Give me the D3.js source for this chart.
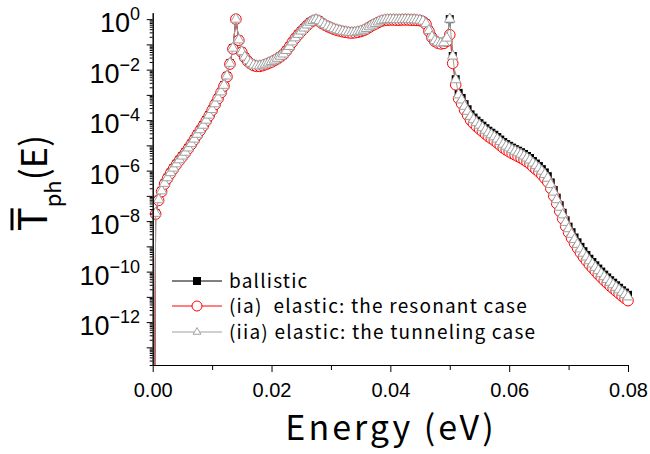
<!DOCTYPE html>
<html>
<head>
<meta charset="utf-8">
<script src="https://cdn.jsdelivr.net/npm/d3@7"></script>
<style>
body { margin: 0; background: #fff; }
svg text { font-family: "Liberation Sans", Arial, sans-serif; fill: #000; }
svg .cjk { font-family: "Noto Sans CJK JP", sans-serif; }
</style>
</head>
<body>
<script>
var width = 650,
    height = 454;

// sampling grid of the calculation: 0 .. 0.08 eV, step 0.0005 eV
var energyStep = 0.0005;
var energy = d3.range(161).map(function(i) { return i * energyStep; });

// log10 of T_ph(E) (-30 = zero at E = 0, below the axis)
var logBallistic = [
  -30, -7.69, -7.15, -6.80, -6.50, -6.28, -6.08, -5.90, -5.73, -5.57,
  -5.42, -5.27, -5.10, -4.93, -4.75, -4.56, -4.38, -4.20, -4.00, -3.80,
  -3.58, -3.35, -3.12, -2.88, -2.62, -2.25, -1.75, -1.15, 0.00, -0.82,
  -1.29, -1.50, -1.65, -1.75, -1.82, -1.85, -1.85, -1.82, -1.78, -1.73,
  -1.68, -1.62, -1.55, -1.47, -1.38, -1.24, -1.08, -0.90, -0.74, -0.60,
  -0.47, -0.35, -0.23, -0.12, -0.05, -0.02, -0.06, -0.15, -0.22, -0.28,
  -0.33, -0.38, -0.42, -0.45, -0.48, -0.50, -0.52, -0.53, -0.52, -0.50,
  -0.47, -0.43, -0.37, -0.30, -0.23, -0.17, -0.11, -0.06, -0.03, -0.02,
  -0.01, -0.01, -0.02, -0.02, -0.01, -0.01, -0.01, -0.02, -0.02, -0.03,
  -0.04, -0.08, -0.18, -0.45, -0.70, -0.85, -0.92, -0.95, -0.93, -0.85,
  0.00, -1.46, -2.38, -2.92, -3.12, -3.37, -3.57, -3.77, -3.90, -4.02,
  -4.12, -4.22, -4.32, -4.42, -4.50, -4.58, -4.67, -4.77, -4.87, -4.95,
  -5.02, -5.09, -5.15, -5.21, -5.27, -5.34, -5.42, -5.50, -5.62, -5.72,
  -5.82, -5.94, -6.07, -6.22, -6.47, -6.77, -7.07, -7.37, -7.67, -7.97,
  -8.22, -8.44, -8.65, -8.84, -9.02, -9.19, -9.34, -9.49, -9.62, -9.75,
  -9.88, -10.00, -10.12, -10.23, -10.34, -10.44, -10.54, -10.64, -10.74, -10.83,
  -10.92
];
var logResonant = [
  -30, -7.72, -7.18, -6.83, -6.53, -6.31, -6.11, -5.93, -5.76, -5.60,
  -5.45, -5.30, -5.13, -4.96, -4.78, -4.59, -4.41, -4.23, -4.03, -3.83,
  -3.61, -3.38, -3.15, -2.91, -2.65, -2.28, -1.78, -1.18, 0.00, -0.84,
  -1.31, -1.52, -1.67, -1.77, -1.84, -1.87, -1.87, -1.84, -1.80, -1.75,
  -1.70, -1.64, -1.57, -1.49, -1.40, -1.26, -1.10, -0.92, -0.76, -0.62,
  -0.49, -0.37, -0.25, -0.14, -0.07, -0.04, -0.08, -0.17, -0.24, -0.30,
  -0.35, -0.40, -0.44, -0.47, -0.50, -0.52, -0.54, -0.55, -0.54, -0.52,
  -0.49, -0.45, -0.39, -0.32, -0.25, -0.19, -0.13, -0.08, -0.05, -0.04,
  -0.03, -0.03, -0.04, -0.04, -0.03, -0.03, -0.03, -0.04, -0.04, -0.05,
  -0.06, -0.10, -0.20, -0.48, -0.73, -0.88, -0.95, -0.98, -0.96, -0.88,
  -0.62, -1.75, -2.60, -3.15, -3.35, -3.60, -3.80, -4.00, -4.13, -4.25,
  -4.35, -4.45, -4.55, -4.65, -4.73, -4.81, -4.90, -5.00, -5.10, -5.18,
  -5.25, -5.32, -5.38, -5.44, -5.50, -5.57, -5.65, -5.73, -5.85, -5.95,
  -6.05, -6.17, -6.30, -6.45, -6.70, -7.00, -7.30, -7.60, -7.90, -8.20,
  -8.45, -8.67, -8.88, -9.07, -9.25, -9.42, -9.57, -9.72, -9.85, -9.98,
  -10.11, -10.23, -10.35, -10.46, -10.57, -10.67, -10.77, -10.87, -10.97, -11.06,
  -11.15
];
var logTunneling = [
  -30, -7.69, -7.15, -6.80, -6.50, -6.28, -6.08, -5.90, -5.73, -5.57,
  -5.42, -5.27, -5.10, -4.93, -4.75, -4.56, -4.38, -4.20, -4.00, -3.80,
  -3.58, -3.35, -3.12, -2.88, -2.62, -2.25, -1.75, -1.15, 0.00, -0.82,
  -1.29, -1.50, -1.65, -1.75, -1.82, -1.85, -1.85, -1.82, -1.78, -1.73,
  -1.68, -1.62, -1.55, -1.47, -1.38, -1.24, -1.08, -0.90, -0.74, -0.60,
  -0.47, -0.35, -0.23, -0.12, -0.05, -0.02, -0.06, -0.15, -0.22, -0.28,
  -0.33, -0.38, -0.42, -0.45, -0.48, -0.50, -0.52, -0.53, -0.52, -0.50,
  -0.47, -0.43, -0.37, -0.30, -0.23, -0.17, -0.11, -0.06, -0.03, -0.02,
  -0.01, -0.01, -0.02, -0.02, -0.01, -0.01, -0.01, -0.02, -0.02, -0.03,
  -0.04, -0.08, -0.18, -0.45, -0.70, -0.85, -0.92, -0.95, -0.93, -0.75,
  0.00, -1.46, -2.40, -3.00, -3.20, -3.45, -3.65, -3.85, -3.98, -4.10,
  -4.20, -4.30, -4.40, -4.50, -4.58, -4.66, -4.75, -4.85, -4.95, -5.03,
  -5.10, -5.17, -5.23, -5.29, -5.35, -5.42, -5.50, -5.58, -5.70, -5.80,
  -5.90, -6.02, -6.15, -6.30, -6.55, -6.85, -7.15, -7.45, -7.75, -8.05,
  -8.30, -8.52, -8.73, -8.92, -9.10, -9.27, -9.42, -9.57, -9.70, -9.83,
  -9.96, -10.08, -10.20, -10.31, -10.42, -10.52, -10.62, -10.72, -10.82, -10.91,
  -11.00
];

var xTicks = [0, 0.02, 0.04, 0.06, 0.08];
var xMinorTicks = [0.01, 0.03, 0.05, 0.07];
var yLabelExps = [0, -2, -4, -6, -8, -10, -12];
var yDecadeExps = d3.range(-13, 1);

var legendLabels = [
  "ballistic",
  "(ia)  elastic: the resonant case",
  "(iia) elastic: the tunneling case"
];

var x = d3.scaleLinear().domain([0, 0.08]).range([152.7, 628]);
var y = d3.scaleLog().domain([2e-14, 1.8]).range([365, 12.7]);

var svg = d3.select("body").append("svg")
    .attr("width", width)
    .attr("height", height);

svg.append("clipPath").attr("id", "plotclip")
  .append("rect").attr("x", 140).attr("y", 0).attr("width", 505).attr("height", 365);

function toSeries(logs) {
    return logs.map(function(v, i) { return {e: energy[i], t: Math.pow(10, v)}; });
}

var line = d3.line()
    .x(function(d) { return x(d.e); })
    .y(function(d) { return y(d.t); });

var plot = svg.append("g").attr("clip-path", "url(#plotclip)");

// ballistic: black squares
var ballistic = toSeries(logBallistic);
plot.append("path").datum(ballistic).attr("d", line)
    .attr("fill", "none").attr("stroke", "#000").attr("stroke-width", 1);
plot.append("g").selectAll("rect").data(ballistic).enter().append("rect")
    .attr("x", function(d) { return x(d.e) - 4; })
    .attr("y", function(d) { return y(d.t) - 4; })
    .attr("width", 8).attr("height", 8)
    .attr("fill", "#000");

// resonant: red open circles
var resonant = toSeries(logResonant);
plot.append("path").datum(resonant).attr("d", line)
    .attr("fill", "none").attr("stroke", "#ff0000").attr("stroke-width", 1);
plot.append("g").selectAll("circle").data(resonant).enter().append("circle")
    .attr("cx", function(d) { return x(d.e); })
    .attr("cy", function(d) { return y(d.t); })
    .attr("r", 5.3)
    .attr("fill", "#fff").attr("stroke", "#ff0000").attr("stroke-width", 1);

// tunneling: gray open triangles
var tunneling = toSeries(logTunneling);
var tri = d3.symbol().type(d3.symbolTriangle).size(48);
plot.append("path").datum(tunneling).attr("d", line)
    .attr("fill", "none").attr("stroke", "#a0a0a0").attr("stroke-width", 1);
plot.append("g").selectAll("path").data(tunneling).enter().append("path")
    .attr("d", tri)
    .attr("transform", function(d) { return "translate(" + x(d.e) + "," + y(d.t) + ")"; })
    .attr("fill", "#fff").attr("stroke", "#a0a0a0").attr("stroke-width", 1);

// x axis
var xAxis = svg.append("g").attr("transform", "translate(0,365)");
xAxis.call(d3.axisBottom(x).tickValues(xMinorTicks).tickSize(5).tickSizeOuter(0).tickFormat(""));
xAxis.append("g").call(d3.axisBottom(x).tickValues(xTicks).tickSize(7).tickSizeOuter(0)
    .tickPadding(11).tickFormat(d3.format(".2f")));
xAxis.selectAll("text").style("font-size", "20px").attr("fill", "#000");
xAxis.selectAll("line, path").attr("stroke", "#000");

// y axis
var minorY = [];
yDecadeExps.forEach(function(p) {
    for (var k = 2; k < 10; k++) {
        var v = k * Math.pow(10, p - 1);
        if (v >= 2e-14 && v <= 1.8) minorY.push(v);
    }
});
var yAxis = svg.append("g").attr("transform", "translate(152.7,0)");
yAxis.call(d3.axisLeft(y).tickValues(minorY).tickSize(3).tickSizeOuter(0).tickFormat(""));
yAxis.append("g").call(d3.axisLeft(y).tickValues(yDecadeExps.map(function(p) { return Math.pow(10, p); }))
    .tickSize(6).tickSizeOuter(0).tickFormat(""));
yAxis.selectAll("line, path").attr("stroke", "#000");

var yLab = svg.append("g").selectAll("text").data(yLabelExps).enter().append("text")
    .attr("x", 140)
    .attr("y", function(p) { return y(Math.pow(10, p)) + 13; })
    .attr("text-anchor", "end");
yLab.append("tspan").style("font-size", "27px").text("10");
yLab.append("tspan").style("font-size", "18px").attr("dy", -12)
    .text(function(p) { return p === 0 ? "0" : "\u2212" + (-p); });

// axis titles
svg.append("text").attr("class", "cjk")
    .attr("x", 391).attr("y", 440)
    .attr("text-anchor", "middle")
    .style("font-size", "34px")
    .style("letter-spacing", "3px")
    .text("Energy (eV)");

var yTitle = svg.append("g").attr("transform", "translate(47,183) rotate(-90)");
var yt = yTitle.append("text").attr("class", "cjk").attr("text-anchor", "middle");
yt.append("tspan").style("font-size", "40px").text("T");
yt.append("tspan").style("font-size", "22px").attr("dy", 14).text("ph");
yt.append("tspan").style("font-size", "36px").attr("dy", -14).text("(E)");
var tBox = yt.node().getExtentOfChar(0);
yTitle.append("line")
    .attr("x1", tBox.x + 1).attr("x2", tBox.x + tBox.width - 1)
    .attr("y1", -35).attr("y2", -35)
    .attr("stroke", "#000").attr("stroke-width", 3);

// legend
var legendY = [281, 306, 332];
var legend = svg.append("g");
legend.selectAll("line").data(legendY).enter().append("line")
    .attr("x1", 172).attr("x2", 222)
    .attr("y1", function(d) { return d; }).attr("y2", function(d) { return d; })
    .attr("stroke", function(d, i) { return ["#000", "#ff0000", "#a0a0a0"][i]; })
    .attr("stroke-width", 1);
legend.append("rect").attr("x", 193).attr("y", legendY[0] - 4).attr("width", 8).attr("height", 8).attr("fill", "#000");
legend.append("circle").attr("cx", 197).attr("cy", legendY[1]).attr("r", 5)
    .attr("fill", "#fff").attr("stroke", "#ff0000");
legend.append("path").attr("d", d3.symbol().type(d3.symbolTriangle).size(26))
    .attr("transform", "translate(197," + legendY[2] + ")")
    .attr("fill", "#fff").attr("stroke", "#a0a0a0");
legend.selectAll("text").data(legendLabels).enter().append("text")
    .attr("class", "cjk")
    .attr("x", 229)
    .attr("y", function(d, i) { return legendY[i]; })
    .attr("dy", "0.36em")
    .style("font-size", "19px")
    .style("letter-spacing", "1.2px")
    .style("white-space", "pre")
    .text(function(d) { return d; });
</script>
</body>
</html>
